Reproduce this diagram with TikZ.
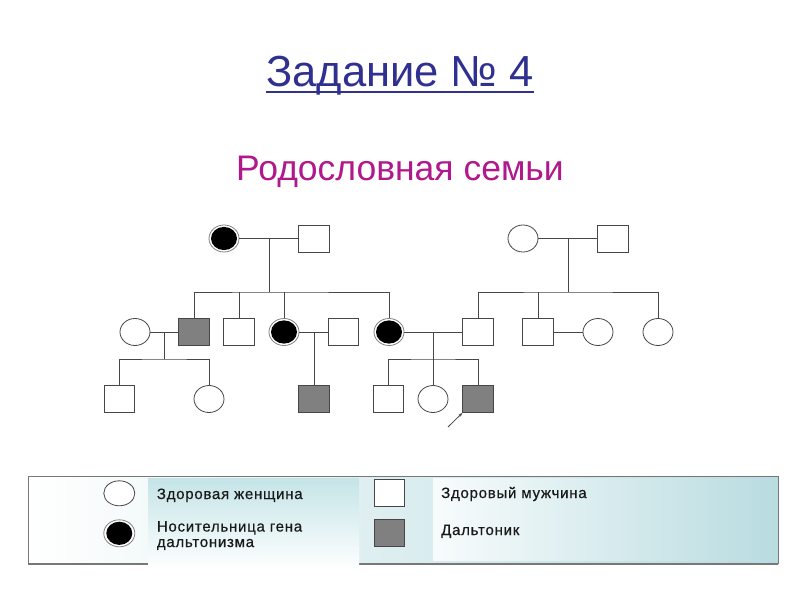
\documentclass[tikz,border=0pt]{standalone}
\usepackage{fontspec}
\setmainfont{Liberation Sans}
\newfontfamily\legfont[LetterSpace=5,FakeBold=0.5]{Liberation Sans}
\usetikzlibrary{shapes.geometric,arrows.meta}
\definecolor{lin}{RGB}{70,70,70}
\definecolor{affgray}{RGB}{128,128,128}
\definecolor{navy}{RGB}{48,48,145}
\definecolor{magen}{RGB}{176,24,140}
\definecolor{tealbg}{RGB}{184,220,224}
\definecolor{tealpan}{RGB}{196,228,231}
\definecolor{bordergray}{RGB}{120,120,120}
\begin{document}
\begin{tikzpicture}[x=1pt,y=-1pt,
  male/.style={rectangle, draw=lin, line width=0.8pt, fill=white, minimum width=30.5pt, minimum height=27pt, inner sep=0pt},
  affm/.style={male, fill=affgray},
  fem/.style={ellipse, draw=lin, line width=0.8pt, fill=white, minimum width=30pt, minimum height=27pt, inner sep=0pt},
  carrier/.style={fem, draw=gray, path picture={\fill[black] (path picture bounding box.center) ellipse [x radius=13pt, y radius=11.6pt];}},
  link/.style={draw=lin, line width=0.8pt},
  legtext/.style={anchor=base west, inner sep=0pt, text=black!90, font=\legfont\fontsize{15}{18}\selectfont}]
\useasboundingbox[fill=white] (0,0) rectangle (800,600);

% titles
\node[anchor=base, inner sep=0pt, text=navy, font=\fontsize{43.5}{50}\selectfont] (title) at (400,86.7) {Задание № 4};
\draw[navy, line width=2.2pt] ([yshift=-5pt]title.base west) -- ([yshift=-5pt]title.base east);
\node[anchor=base, inner sep=0pt, text=magen, font=\fontsize{35.5}{42}\selectfont] (sub) at (400,180) {Родословная семьи};

% generation I
\node[carrier] (f1) at (224,238.5) {};
\node[male] (m1) at (314,238.5) {};
\node[fem] (f2) at (523,238.5) {};
\node[male] (m2) at (613,238.5) {};

% generation II
\node[fem] (fa) at (135,332) {};
\node[affm] (ma) at (194,332) {};
\node[male] (mb) at (239,332) {};
\node[carrier] (fb) at (284,332) {};
\node[male] (mc) at (343.5,332) {};
\node[carrier] (fc) at (389,332) {};
\node[male] (md) at (478,332) {};
\node[male] (me) at (538,332) {};
\node[fem] (fd) at (598,332) {};
\node[fem] (fe) at (658,332) {};

% generation III
\node[male] (ga) at (119.5,399) {};
\node[fem] (gb) at (209,399) {};
\node[affm] (gc) at (314,399) {};
\node[male] (gd) at (388.5,399) {};
\node[fem] (ge) at (433,399) {};
\node[affm] (gf) at (478,399) {};

% junctions
\coordinate (c1) at (269,238.5);
\coordinate (s1) at (269,292);
\coordinate (c2) at (568,238.5);
\coordinate (s2) at (568,292);
\coordinate (c3) at (164,332);
\coordinate (s3) at (164,359);
\coordinate (c4) at (314,332);
\coordinate (c5) at (433,332);
\coordinate (s5) at (433,359);

% links generation I
\draw[link] (f1) -- (m1);
\draw[link] (c1) -- (s1);
\draw[link] (ma.north) |- (s1) -| (fc.north);
\draw[link] (mb.north) -- (mb.north |- s1);
\draw[link] (fb.north) -- (fb.north |- s1);
\draw[link] (f2) -- (m2);
\draw[link] (c2) -- (s2);
\draw[link] (md.north) |- (s2) -| (fe.north);
\draw[link] (me.north) -- (me.north |- s2);

% links generation II
\draw[link] (fa) -- (ma);
\draw[link] (c3) -- (s3);
\draw[link] (ga.north) |- (s3) -| (gb.north);
\draw[link] (fb) -- (mc);
\draw[link] (c4) -- (gc.north);
\draw[link] (fc) -- (md);
\draw[link] (c5) -- (ge.north);
\draw[link] (gd.north) |- (s5) -| (gf.north);
\draw[link] (me) -- (fd);

% proband arrow
\coordinate (arrstart) at (448,427);
\draw[link, -{Stealth[length=4pt,width=3pt]}] (arrstart) -- (gf.south west);

% legend box
\shade[left color=white, right color=tealbg] (28.3,476.7) rectangle (778.3,564);
\draw[bordergray, line width=1pt] (28.3,476.7) -- (778.3,476.7) -- (778.3,564);
\draw[bordergray, line width=1pt] (28.3,476.7) -- (28.3,564);
\draw[bordergray, line width=2pt] (28.3,564) -- (778.3,564);
\shade[top color=tealpan, bottom color=white] (148,478) rectangle (359,570);
\shade[left color=white!90!tealbg, right color=tealbg] (433,478) rectangle (777,560);

\node[fem, minimum width=31pt, minimum height=25pt] (lf) at (119.3,493.3) {};
\node[carrier, minimum width=31pt, minimum height=27pt] (lc) at (119.3,533.3) {};
\node[male, minimum width=30pt, minimum height=27pt] (lm) at (389,492.7) {};
\node[affm, minimum width=30pt, minimum height=27pt] (la) at (389,532.7) {};

\node[legtext] (t1) at (156.7,499) {Здоровая женщина};
\node[legtext] (t2) at (156.7,531.5) {Носительница гена};
\node[legtext] (t2b) at (156.7,547) {дальтонизма};
\node[legtext] (t3) at (441,498) {Здоровый мужчина};
\node[legtext] (t4) at (441,535) {Дальтоник};
\end{tikzpicture}
\end{document}
